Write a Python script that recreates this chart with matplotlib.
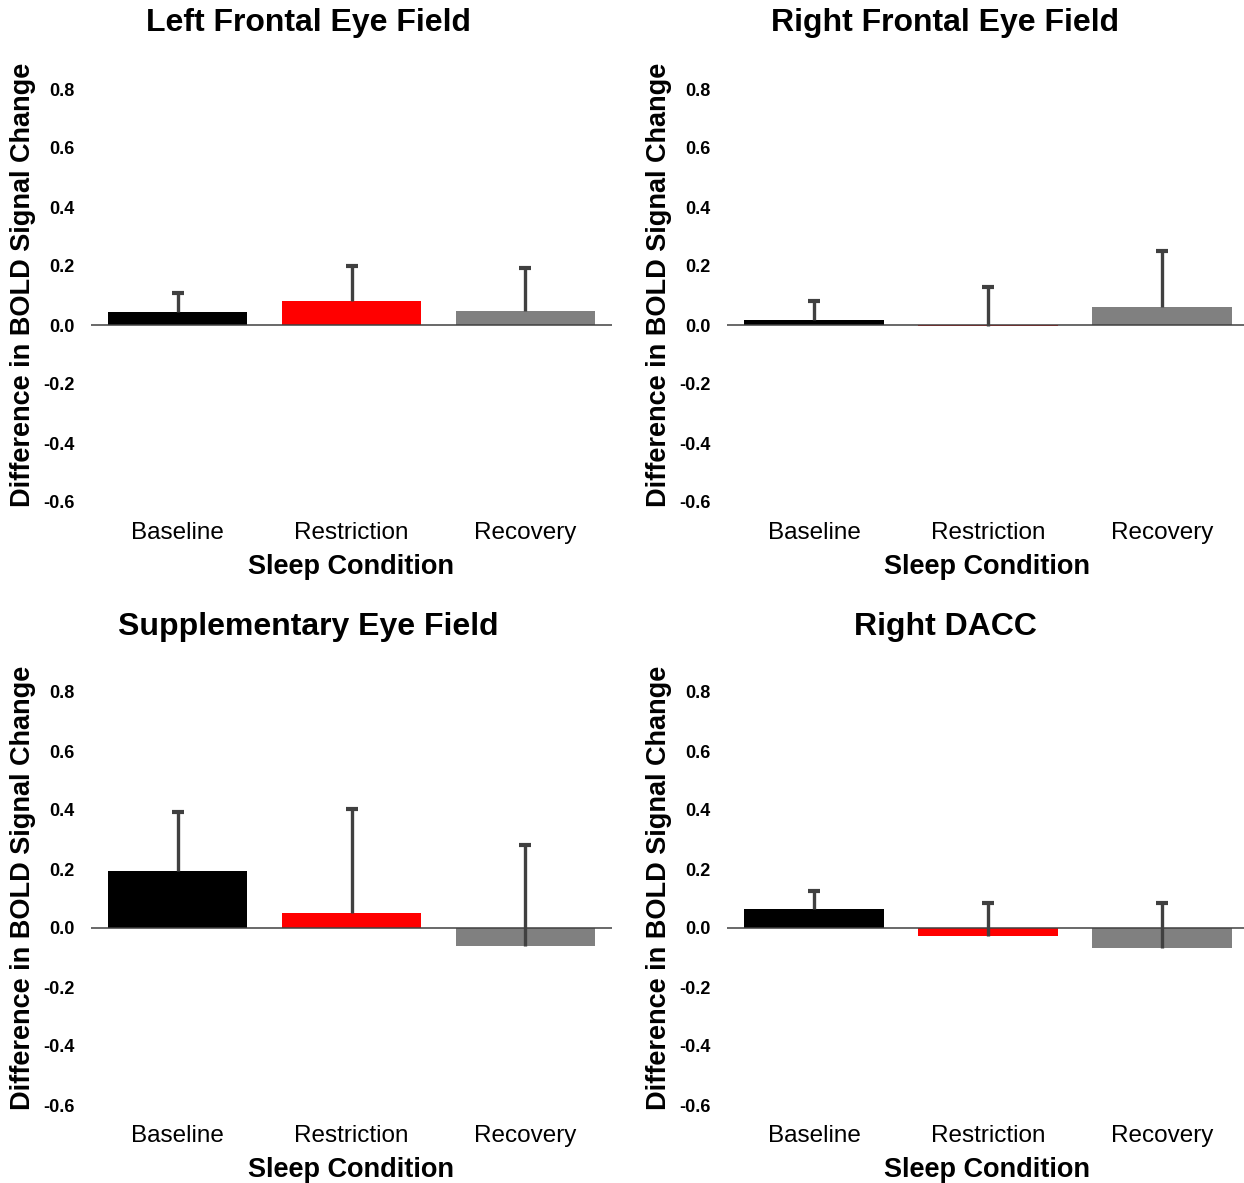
import matplotlib
matplotlib.use("Agg")
import matplotlib.pyplot as plt

# Data: mean difference in BOLD signal change and upper error for each region
conditions = ["Baseline", "Restriction", "Recovery"]
bar_colors = ["#000000", "#ff0000", "#808080"]

regions = ["Left Frontal Eye Field", "Right Frontal Eye Field",
           "Supplementary Eye Field", "Right DACC"]

lfef_mean = [0.043, 0.081, 0.047]
lfef_err = [0.067, 0.119, 0.146]

rfef_mean = [0.016, -0.002, 0.062]
rfef_err = [0.064, 0.132, 0.188]

sef_mean = [0.194, 0.052, -0.062]
sef_err = [0.198, 0.350, 0.343]

dacc_mean = [0.063, -0.027, -0.068]
dacc_err = [0.063, 0.113, 0.154]

yticks = [-0.6, -0.4, -0.2, 0.0, 0.2, 0.4, 0.6, 0.8]

plt.rcParams["font.family"] = ["Liberation Sans", "DejaVu Sans"]

W, H = 1244, 1183
fig = plt.figure(figsize=(W / 100, H / 100), dpi=100)

# panel rectangles in pixels: (left, top, right, bottom)
panels = [
    (91, 89, 612, 502),
    (727, 89, 1249, 502),
    (91, 692, 612, 1105),
    (727, 692, 1249, 1105),
]
title_pos = [(308, 23), (945, 23), (308, 627), (945, 627)]
means = [lfef_mean, rfef_mean, sef_mean, dacc_mean]
errs = [lfef_err, rfef_err, sef_err, dacc_err]

ERR_COLOR = "#404040"

for (l, t, r, b), (tx, ty), name, m, e in zip(panels, title_pos, regions, means, errs):
    ax = fig.add_axes([l / W, 1 - b / H, (r - l) / W, (b - t) / H])
    x = list(range(len(conditions)))
    ax.bar(x, m, width=0.8, color=bar_colors, zorder=2)
    ax.axhline(0, color="#404040", lw=1.1, zorder=3)
    # one-sided (upper) error bars with a cap at the top only
    tops = [mv + ev for mv, ev in zip(m, e)]
    ax.vlines(x, m, tops, color=ERR_COLOR, lw=2.4, zorder=4)
    ax.plot(x, tops, ls="none", marker="_", ms=8, mew=3, color=ERR_COLOR, zorder=4)
    ax.set_xlim(-0.5, 2.5)
    ax.set_ylim(-0.6, 0.8)
    ax.set_yticks(yticks)
    ax.set_yticklabels([f"{v:.1f}" for v in yticks], fontsize=13, fontweight="bold")
    ax.set_xticks(x)
    ax.set_xticklabels(conditions, fontsize=17.5)
    ax.tick_params(axis="both", length=0)
    ax.tick_params(axis="y", pad=12)
    ax.tick_params(axis="x", pad=14.5)
    for s in ax.spines.values():
        s.set_visible(False)
    # axis titles
    fig.text((l + 260) / W, 1 - (b + 65) / H, "Sleep Condition", ha="center",
             va="center", fontsize=19.5, fontweight="bold")
    fig.text((l - 68) / W, 1 - (t + 196) / H, "Difference in BOLD Signal Change",
             ha="center", va="center", rotation=90, fontsize=19.5, fontweight="bold")
    fig.text(tx / W, 1 - ty / H, name, ha="center", va="center",
             fontsize=23, fontweight="bold")

fig.savefig("out.png", dpi=100, facecolor="white")
